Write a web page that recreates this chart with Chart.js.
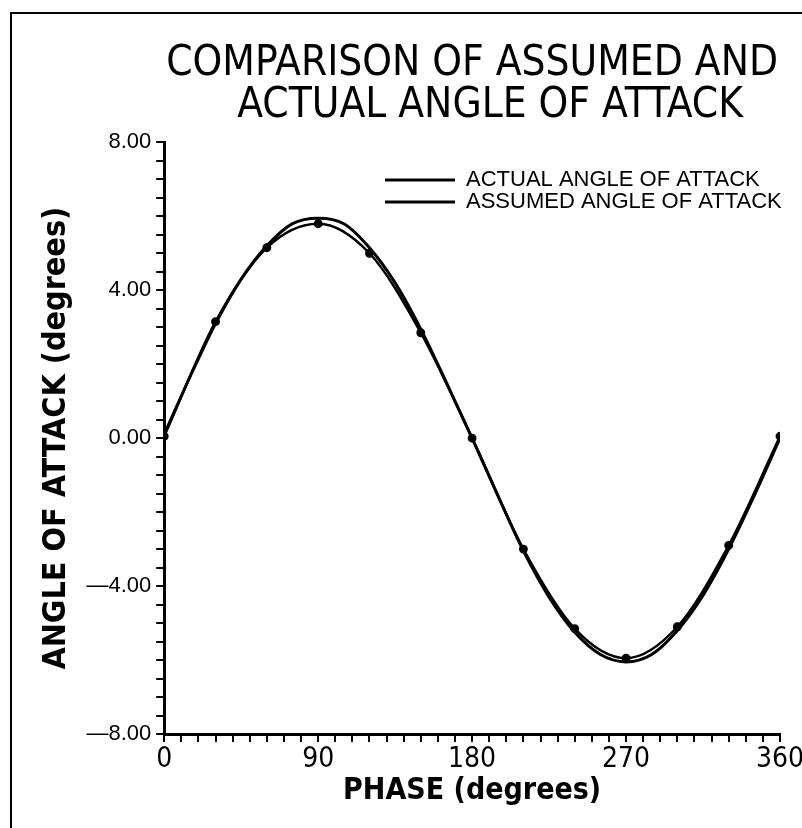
<!DOCTYPE html>
<html>
<head>
<meta charset="utf-8">
<script src="https://cdn.jsdelivr.net/npm/chart.js@4.4.1/dist/chart.umd.min.js"></script>
<style>
  html, body { margin: 0; padding: 0; background: #fff; }
  #wrap { position: relative; width: 802px; height: 828px; }
  #frame { position: absolute; left: 10px; top: 12px; right: 0; bottom: 0;
           border-left: 2px solid #000; border-top: 2px solid #000; pointer-events: none; }
  canvas { position: absolute; left: 0; top: 0; }
</style>
</head>
<body>
<div id="wrap">
  <canvas id="aoaChart" width="802" height="828"></canvas>
  <div id="frame"></div>
</div>
<script>
// phase (degrees) and angle of attack (degrees)
const actualPhase = [0, 30, 60, 90, 120, 150, 180, 210, 240, 270, 300, 330, 360];
const actualAoa = [0.05, 3.15, 5.15, 5.8, 5.0, 2.85, 0.0, -3.0, -5.15, -5.95, -5.1, -2.9, 0.05];

const assumedPhase = [0, 15, 30, 45, 60, 75, 90, 105, 120, 135, 150, 165, 180,
                      195, 210, 225, 240, 255, 270, 285, 300, 315, 330, 345, 360];
const assumedAoa = [0.1, 1.65, 3.1, 4.3, 5.2, 5.8, 5.95, 5.8, 5.15, 4.2, 2.95, 1.5, 0.0,
                    -1.55, -3.05, -4.3, -5.25, -5.85, -6.05, -5.85, -5.2, -4.25, -3.0, -1.55, 0.0];

const xLabels = [0, 90, 180, 270, 360];
const yLabels = [-8, -4, 0, 4, 8];

const narrow = "'Liberation Sans Narrow', 'DejaVu Sans Condensed', 'Liberation Sans', sans-serif";
const plain = "'Liberation Sans', Arial, sans-serif";

function pts(xs, ys) {
  return xs.map((x, i) => ({ x: x, y: ys[i] }));
}

// legend sits inside the plot, top right (chartArea legends are always left aligned)
const legendPlace = {
  id: "legendPlace",
  afterLayout(chart) {
    const lg = chart.legend;
    if (!lg) return;
    lg.left = 385;
    lg.top = 169;
    lg.right = chart.width;
  },
};

const ctx = document.getElementById("aoaChart").getContext("2d");
new Chart(ctx, {
  type: "line",
  data: {
    datasets: [
      {
        label: "ACTUAL ANGLE OF ATTACK",
        data: pts(actualPhase, actualAoa),
        borderColor: "#000",
        backgroundColor: "#000",
        borderWidth: 2.5,
        pointRadius: 3.2,
        pointStyle: "circle",
        cubicInterpolationMode: "monotone",
        fill: false,
      },
      {
        label: "ASSUMED ANGLE OF ATTACK",
        data: pts(assumedPhase, assumedAoa),
        borderColor: "#000",
        backgroundColor: "#000",
        borderWidth: 3,
        pointRadius: 0,
        cubicInterpolationMode: "monotone",
        fill: false,
      },
    ],
  },
  options: {
    responsive: false,
    animation: false,
    layout: { padding: { left: 37, right: 0, top: 44, bottom: 22 } },
    plugins: {
      title: {
        display: true,
        fullSize: false,
        text: ["COMPARISON OF ASSUMED AND", "   ACTUAL ANGLE OF ATTACK"],
        color: "#000",
        font: { family: narrow, size: 42, weight: "normal", lineHeight: 0.98 },
        padding: { top: 0, bottom: 16 },
      },
      legend: {
        position: "chartArea",
        align: "start",
        labels: {
          color: "#000",
          font: { family: plain, size: 22 },
          usePointStyle: true,
          pointStyleWidth: 70,
          padding: 0,
          generateLabels: function (chart) {
            return chart.data.datasets.map((ds, i) => ({
              text: ds.label,
              datasetIndex: i,
              pointStyle: "line",
              strokeStyle: "#000",
              fillStyle: "#000",
              lineWidth: 3,
              fontColor: "#000",
            }));
          },
        },
      },
      tooltip: { enabled: false },
    },
    scales: {
      x: {
        type: "linear",
        min: 0,
        max: 360,
        border: { color: "#000", width: 3 },
        grid: { drawOnChartArea: false, drawTicks: true, tickLength: 8, color: "#000", lineWidth: 2 },
        afterFit: (scale) => { scale.paddingRight = 22; },
        ticks: {
          stepSize: 10,
          autoSkip: false,
          maxRotation: 0,
          color: "#000",
          padding: 4,
          font: { family: narrow, size: 28, lineHeight: 1 },
          callback: (v) => (xLabels.includes(v) ? String(v) : ""),
        },
        title: {
          display: true,
          text: "PHASE (degrees)",
          color: "#000",
          font: { family: narrow, size: 30, weight: "bold", lineHeight: 1 },
          padding: { top: -2, bottom: 0 },
        },
      },
      y: {
        min: -8,
        max: 8,
        border: { color: "#000", width: 3 },
        grid: { drawOnChartArea: false, drawTicks: true, tickLength: 8, color: "#000", lineWidth: 2 },
        ticks: {
          stepSize: 0.5,
          autoSkip: false,
          color: "#000",
          padding: 5,
          font: { family: plain, size: 22 },
          callback: (v) => (yLabels.includes(v) ? v.toFixed(2).replace("-", "\u2014") : ""),
        },
        title: {
          display: true,
          text: "ANGLE OF ATTACK (degrees)",
          color: "#000",
          font: { family: narrow, size: 32, weight: "bold" },
          padding: { top: 0, bottom: 6 },
        },
      },
    },
  },
  plugins: [legendPlace],
});
</script>
</body>
</html>
